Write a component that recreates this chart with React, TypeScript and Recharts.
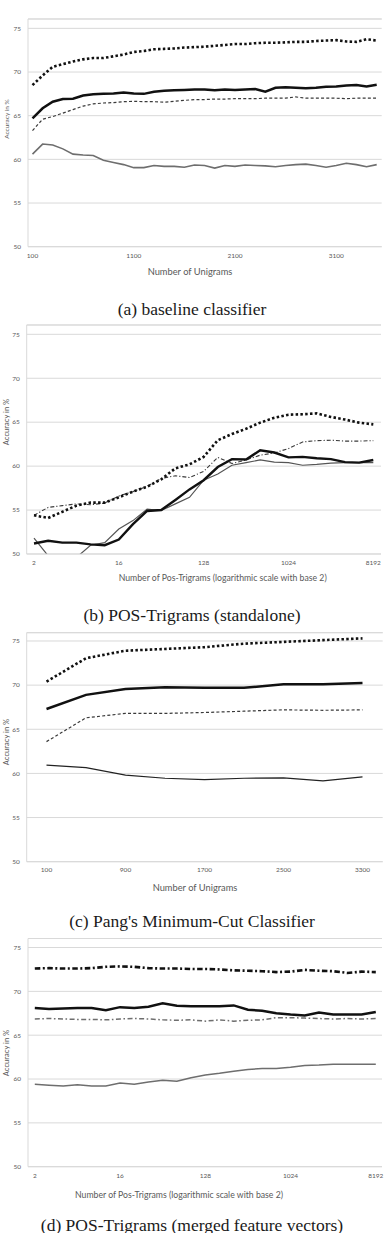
import React from 'react';
import { LineChart, Line, XAxis, YAxis, CartesianGrid, ReferenceLine } from 'recharts';

// x categories
const UNIGRAMS_FINE = [
  '100', '200', '300', '400', '500', '600', '700', '800', '900', '1000',
  '1100', '1200', '1300', '1400', '1500', '1600', '1700', '1800', '1900', '2000',
  '2100', '2200', '2300', '2400', '2500', '2600', '2700', '2800', '2900', '3000',
  '3100', '3200', '3300', '3400', '3500',
];
const UNIGRAMS_COARSE = ['100', '500', '900', '1300', '1700', '2100', '2500', '2900', '3300'];
const POS_TRIGRAMS = [
  '2', '3', '4', '6', '8', '11', '16', '23', '32', '45', '64', '91', '128',
  '181', '256', '362', '512', '724', '1024', '1448', '2048', '2896', '4096', '5793', '8192',
];
const Y_TICKS = [50, 55, 60, 65, 70, 75];

// (a) baseline classifier
const A_TOP = [68.5, 69.6, 70.6, 70.9, 71.2, 71.45, 71.6, 71.6, 71.8, 72.0, 72.3, 72.4, 72.6, 72.65, 72.7, 72.8, 72.85, 72.9, 73.0, 73.1, 73.2, 73.2, 73.3, 73.35, 73.35, 73.4, 73.45, 73.45, 73.55, 73.6, 73.65, 73.5, 73.45, 73.75, 73.6];
const A_SOLID = [64.7, 65.85, 66.6, 66.9, 66.95, 67.3, 67.45, 67.5, 67.55, 67.65, 67.55, 67.5, 67.75, 67.85, 67.9, 67.95, 68.0, 68.0, 67.9, 68.0, 67.95, 68.0, 68.05, 67.75, 68.2, 68.25, 68.2, 68.15, 68.2, 68.3, 68.35, 68.45, 68.5, 68.35, 68.55];
const A_DASHED = [63.3, 64.6, 64.9, 65.3, 65.7, 66.1, 66.35, 66.45, 66.5, 66.6, 66.65, 66.6, 66.6, 66.55, 66.65, 66.75, 66.85, 66.85, 66.9, 66.9, 66.95, 66.95, 66.95, 67.0, 67.0, 67.0, 67.15, 67.0, 67.0, 67.0, 67.0, 66.95, 67.0, 67.0, 67.0];
const A_LOW = [60.6, 61.75, 61.65, 61.2, 60.6, 60.5, 60.45, 59.9, 59.65, 59.4, 59.05, 59.05, 59.3, 59.2, 59.2, 59.1, 59.35, 59.3, 59.0, 59.3, 59.2, 59.35, 59.3, 59.25, 59.15, 59.3, 59.4, 59.45, 59.3, 59.1, 59.3, 59.55, 59.4, 59.15, 59.4];

// (b) POS-trigrams standalone
const B_TOP = [54.4, 54.1, 54.8, 55.5, 55.85, 55.85, 56.45, 57.1, 57.65, 58.5, 59.75, 60.2, 61.05, 62.95, 63.65, 64.25, 64.95, 65.5, 65.85, 65.9, 66.0, 65.6, 65.3, 64.95, 64.75];
const B_DASHED = [54.4, 55.3, 55.5, 55.7, 55.6, 55.8, 56.6, 57.1, 57.7, 58.6, 58.9, 58.7, 59.4, 61.0, 60.3, 60.7, 61.25, 61.5, 62.0, 62.75, 62.9, 62.95, 62.85, 62.85, 62.9];
const B_SOLID = [51.2, 51.5, 51.3, 51.3, 51.1, 51.0, 51.65, 53.4, 54.9, 55.0, 56.15, 57.35, 58.4, 59.9, 60.8, 60.75, 61.8, 61.55, 61.0, 61.05, 60.9, 60.8, 60.45, 60.4, 60.7];
const B_LOW = [51.8, 49.8, 49.9, 49.6, 51.0, 51.3, 52.85, 53.8, 55.1, 54.95, 55.7, 56.45, 58.4, 59.1, 60.1, 60.4, 60.7, 60.45, 60.4, 60.1, 60.2, 60.35, 60.4, 60.4, 60.4];

// (c) minimum-cut classifier
const C_TOP = [70.4, 73.05, 73.9, 74.1, 74.3, 74.7, 74.9, 75.1, 75.3];
const C_SOLID = [67.3, 68.9, 69.55, 69.75, 69.7, 69.7, 70.1, 70.1, 70.25];
const C_DASHED = [63.6, 66.3, 66.8, 66.8, 66.9, 67.05, 67.2, 67.15, 67.2];
const C_LOW = [60.95, 60.65, 59.8, 59.45, 59.3, 59.45, 59.5, 59.15, 59.6];

// (d) POS-trigrams merged
const D_TOP = [72.6, 72.65, 72.6, 72.6, 72.65, 72.8, 72.85, 72.8, 72.65, 72.6, 72.6, 72.55, 72.55, 72.5, 72.4, 72.35, 72.3, 72.2, 72.25, 72.45, 72.35, 72.3, 72.1, 72.25, 72.2];
const D_SOLID = [68.1, 68.0, 68.05, 68.1, 68.1, 67.85, 68.2, 68.1, 68.25, 68.65, 68.35, 68.3, 68.3, 68.3, 68.4, 67.9, 67.8, 67.5, 67.35, 67.25, 67.6, 67.35, 67.35, 67.35, 67.65];
const D_DASHED = [66.85, 66.9, 66.85, 66.8, 66.8, 66.75, 66.85, 66.9, 66.85, 66.75, 66.7, 66.75, 66.6, 66.75, 66.6, 66.7, 66.75, 67.0, 67.0, 66.95, 66.9, 66.85, 66.9, 66.85, 66.9];
const D_LOW = [59.4, 59.3, 59.2, 59.35, 59.2, 59.2, 59.55, 59.4, 59.65, 59.85, 59.75, 60.15, 60.45, 60.65, 60.9, 61.1, 61.2, 61.2, 61.35, 61.55, 61.6, 61.7, 61.7, 61.7, 61.7];

type Series = { key: string; values: number[]; color: string; width: number; dash?: string };

type PanelProps = {
  top: number;
  cats: string[];
  series: Series[];
  plot: { top: number; bottom: number; left: number; right: number };
  yMax: number;
  pad: [number, number];
  interval: number;
  tickGap: number;
  xTitle: { text: string; cx: number; cy: number; size: number };
  yTitle: { cy: number; size: number };
  caption: { text: string; cy: number };
};

const GRID = '#d9d9d9';
const INK = '#595959';
const CHART_H = 262;

const Panel: React.FC<PanelProps> = ({ top, cats, series, plot, yMax, pad, interval, tickGap, xTitle, yTitle, caption }) => {
  const data = cats.map((x, i) => {
    const row: Record<string, string | number> = { x };
    series.forEach((s) => { row[s.key] = s.values[i]; });
    return row;
  });
  const tick = { fontFamily: 'Lato', fontSize: 6.5, fill: INK };

  return (
    <>
      <div style={{ position: 'absolute', left: 0, top }}>
        <LineChart
          width={389}
          height={CHART_H}
          data={data}
          margin={{ top: plot.top - top, right: 389 - plot.right, left: 0, bottom: 0 }}
        >
          <CartesianGrid vertical={false} stroke={GRID} />
          <XAxis
            dataKey="x"
            interval={interval}
            padding={{ left: pad[0], right: pad[1] }}
            height={CHART_H - (plot.bottom - top)}
            axisLine={{ stroke: GRID }}
            tickLine={false}
            tickSize={0}
            tickMargin={tickGap}
            tick={tick}
          />
          <YAxis
            type="number"
            domain={[50, yMax]}
            ticks={Y_TICKS}
            allowDataOverflow
            width={plot.left}
            axisLine={{ stroke: GRID }}
            tickLine={false}
            tickSize={0}
            tickMargin={7}
            tick={tick}
          />
          {/* right edge of the plot frame */}
          <YAxis yAxisId="frame" orientation="right" width={0} domain={[0, 1]} tick={false} tickLine={false} axisLine={{ stroke: GRID }} />
          <ReferenceLine y={yMax} stroke={GRID} />
          {series.map((s) => (
            <Line
              key={s.key}
              type="linear"
              dataKey={s.key}
              stroke={s.color}
              strokeWidth={s.width}
              strokeDasharray={s.dash}
              dot={false}
              activeDot={false}
              isAnimationActive={false}
            />
          ))}
        </LineChart>
      </div>
      <div
        style={{
          position: 'absolute', left: xTitle.cx, top: xTitle.cy, transform: 'translate(-50%, -50%)',
          fontFamily: 'Lato', fontSize: xTitle.size, color: INK, whiteSpace: 'nowrap',
        }}
      >
        {xTitle.text}
      </div>
      <div
        style={{
          position: 'absolute', left: 6, top: yTitle.cy, transform: 'translate(-50%, -50%) rotate(-90deg)',
          fontFamily: 'Lato', fontSize: yTitle.size, color: INK, whiteSpace: 'nowrap',
        }}
      >
        Accuracy in %
      </div>
      <div
        style={{
          position: 'absolute', left: 0, width: 384, top: caption.cy - 11, lineHeight: '22px', textAlign: 'center',
          fontFamily: '"Liberation Serif", serif', fontSize: 17.5, color: '#1a1a1a',
        }}
      >
        {caption.text}
      </div>
    </>
  );
};

const DOT = '2.5 2.3';

const App: React.FC = () => {
  return (
    <div style={{ position: 'relative', width: 389, height: 1233, overflow: 'hidden', background: '#fff' }}>
      <style>{'body { margin: 0; }'}</style>

      <Panel
        top={0}
        cats={UNIGRAMS_FINE}
        plot={{ top: 19, bottom: 246.7, left: 28, right: 381.7 }}
        yMax={76.07}
        pad={[4.5, 5]}
        interval={9}
        tickGap={6.5}
        series={[
          { key: 'low', values: A_LOW, color: '#6e6e6e', width: 1.6 },
          { key: 'dashed', values: A_DASHED, color: '#3a3a3a', width: 1.2, dash: '3 2.2' },
          { key: 'solid', values: A_SOLID, color: '#111', width: 2.5 },
          { key: 'top', values: A_TOP, color: '#111', width: 2.6, dash: DOT },
        ]}
        xTitle={{ text: 'Number of Unigrams', cx: 190, cy: 270.7, size: 9.3 }}
        yTitle={{ cy: 119, size: 6.5 }}
        caption={{ text: '(a) baseline classifier', cy: 308.5 }}
      />

      <Panel
        top={306}
        cats={POS_TRIGRAMS}
        plot={{ top: 325, bottom: 554, left: 26.7, right: 381 }}
        yMax={76.06}
        pad={[7.3, 7.7]}
        interval={5}
        tickGap={6.8}
        series={[
          { key: 'low', values: B_LOW, color: '#555', width: 1.2 },
          { key: 'dashed', values: B_DASHED, color: '#3a3a3a', width: 1.1, dash: '4 2 1.2 2' },
          { key: 'solid', values: B_SOLID, color: '#111', width: 2.4 },
          { key: 'top', values: B_TOP, color: '#111', width: 2.6, dash: DOT },
        ]}
        xTitle={{ text: 'Number of Pos-Trigrams (logarithmic scale with base 2)', cx: 222.7, cy: 577.3, size: 8.7 }}
        yTitle={{ cy: 422, size: 7.6 }}
        caption={{ text: '(b) POS-Trigrams (standalone)', cy: 614.5 }}
      />

      <Panel
        top={613}
        cats={UNIGRAMS_COARSE}
        plot={{ top: 632.7, bottom: 861.7, left: 26.7, right: 382.7 }}
        yMax={75.94}
        pad={[19.8, 20.2]}
        interval={1}
        tickGap={6}
        series={[
          { key: 'low', values: C_LOW, color: '#222', width: 1.2 },
          { key: 'dashed', values: C_DASHED, color: '#3a3a3a', width: 1.2, dash: '3 2.2' },
          { key: 'solid', values: C_SOLID, color: '#111', width: 2.5 },
          { key: 'top', values: C_TOP, color: '#111', width: 2.6, dash: DOT },
        ]}
        xTitle={{ text: 'Number of Unigrams', cx: 195, cy: 886.7, size: 9.3 }}
        yTitle={{ cy: 741.5, size: 7.6 }}
        caption={{ text: "(c) Pang's Minimum-Cut Classifier", cy: 921 }}
      />

      <Panel
        top={919}
        cats={POS_TRIGRAMS}
        plot={{ top: 938.5, bottom: 1166.7, left: 28, right: 382 }}
        yMax={76.03}
        pad={[6.8, 6.2]}
        interval={5}
        tickGap={6.8}
        series={[
          { key: 'low', values: D_LOW, color: '#6e6e6e', width: 1.5 },
          { key: 'dashed', values: D_DASHED, color: '#6e6e6e', width: 1.5, dash: '5 2.5 1.6 2.5' },
          { key: 'solid', values: D_SOLID, color: '#111', width: 2.5 },
          { key: 'top', values: D_TOP, color: '#111', width: 2.6, dash: '5.5 2.5 2 2.5' },
        ]}
        xTitle={{ text: 'Number of Pos-Trigrams (logarithmic scale with base 2)', cx: 179, cy: 1194.3, size: 8.7 }}
        yTitle={{ cy: 1053, size: 7.6 }}
        caption={{ text: '(d) POS-Trigrams (merged feature vectors)', cy: 1224.5 }}
      />
    </div>
  );
};

export default App;
